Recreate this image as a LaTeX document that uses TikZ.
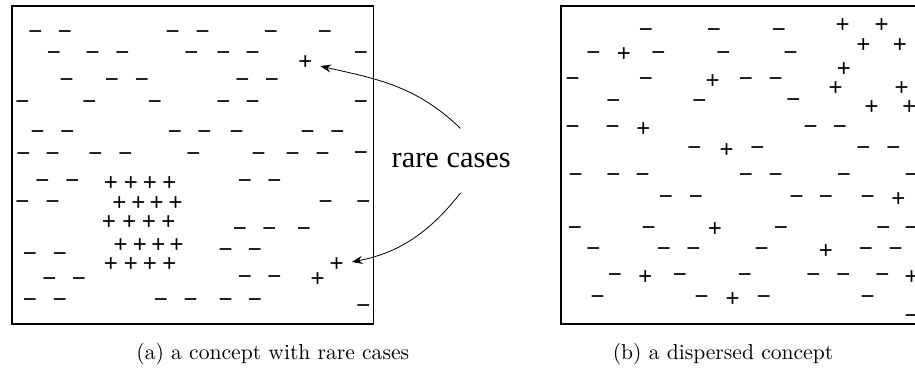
\documentclass[tikz,border=0pt]{standalone}
\usepackage{fontspec}
\newfontfamily\symfont{Liberation Sans}
\newfontfamily\rcfont{Liberation Serif}
\newfontfamily\capfont{lmroman10-regular}[Extension=.otf]
\usetikzlibrary{arrows.meta}
\begin{document}
\begin{tikzpicture}[x=0.75pt,y=0.75pt,
  mn/.style={font=\symfont\fontsize{18}{18}\selectfont, inner sep=0pt, anchor=base, yshift=-5.2pt},
  pl/.style={font=\symfont\fontsize{18}{18}\selectfont, inner sep=0pt, anchor=base, yshift=-6.4pt},
  frame/.style={draw, line width=0.9pt},
  rarrow/.style={-{Stealth[length=8pt,width=6pt]}, line width=0.6pt, shorten >=6pt},
  captext/.style={font=\capfont\fontsize{16.2}{19}\selectfont, inner sep=0pt, anchor=base},
  rctext/.style={font=\rcfont\fontsize{22.8}{26}\selectfont, inner xsep=0pt, inner ysep=18.5pt, anchor=base}
]
\useasboundingbox (0,0) rectangle (915,-378);
\clip (0,0) rectangle (915,-378);
% frames
\draw[frame] (12,-6) rectangle (373.3,-324);
\draw[frame] (561,-6) rectangle (925,-324);
% left minus
\foreach \x/\y [count=\i] in {35.3/33,64.8/33,172.6/33,202.7/33,271/33,325/33,
  54/54,92.7/54,122.3/54,191.5/54,223.3/54,252.7/54,361/54,
  66.7/81,112/81,142/81,242.3/81,272/81,
  22.3/103,89.3/103,155/103,223.3/103,252.7/103,361/103,
  37.7/133,67.3/133,175/133,204.3/133,236.7/133,307.7/133,337.3/133,
  23.3/155,52.7/155,95.3/155,125.3/155,193.3/155,258.7/155,292.7/155,322.7/155,361/154,
  42.3/182,72.3/182,245/182,274.3/182,
  22.3/203,52.7/203,325.7/203,363.3/203,
  240/229.3,269.3/229.3,304/229.3,
  225.7/251,255/251,30/254.3,60/254.3,
  245/277.7,274.3/277.7,49.3/279.3,79/279.3,
  30/301,60/301,161/301,190.7/301,225.7/301,255/301,363.3/306.7}
  \node[mn] (lm\i) at (\x,-\y) {−};
% left plus
\foreach \x/\y [count=\i] in {111/181.7,131/181.7,150/181.7,169.3/181.7,
  119.3/201.7,138.3/201.7,156.7/201.7,175.7/201.7,
  109/220.7,129.3/220.7,149/220.7,168.3/220.7,
  120.7/244.3,140/244.3,158.3/244.3,176.7/244.3,
  111/263.3,131/263.3,150/263.3,169.3/263.3,317.7/277.7}
  \node[pl] (lp\i) at (\x,-\y) {+};
\node[pl] (pA) at (305.3,-61) {+};
\node[pl] (pB) at (336.7,-263.3) {+};
% right minus
\foreach \x/\y [count=\i] in {646/31,714/31,779/31,
  593.3/53.5,658.3/53.5,723.3/53.5,790.7/54,
  572.7/80,646/80,746/79.3,775.7/79.3,
  613.3/101.5,699.3/101.5,793.3/101,
  572.7/127.5,612.7/127.5,810.7/127.5,840/127.5,
  694.3/149,757.3/149,863.3/149,893.3/149,
  575.7/175.7,613.3/175.7,642.7/175.7,746/175.7,775.7/175.7,844/175.7,911.7/175.7,
  666/198,696/198,796.7/198,826/198,867.7/198,
  575/228.3,648.7/228.3,781/228.3,883.3/228.3,911.7/228.3,
  593.3/250,664/250,693.3/250,761.7/250,866/250,895.7/250,
  615/276,680/276,745/276,813.3/276,843.3/276,882.3/276,
  597.7/298,701.7/298,764/298,867.7/298,911.7/316.7}
  \node[mn] (rm\i) at (\x,-\y) {−};
% right plus
\foreach \x/\y [count=\i] in {842.7/24,881.7/24,863.3/44.3,900/44.3,624/53.3,
  844/68.3,712.7/80,835.7/87.3,901.7/87.3,871.7/106,909.3/106,
  643.3/127.7,726.7/149,898.3/198,715/228,826/250,645.3/276,911.7/276,732.7/298}
  \node[pl] (rp\i) at (\x,-\y) {+};
% rare cases
\node[rctext] (rc) at (451.2,-167.7) {rare cases};
\draw[rarrow] ([xshift=7pt]rc.north) to[out=136,in=-13] (pA);
\draw[rarrow] ([xshift=7pt]rc.south) to[out=232,in=11] (pB);
% captions
\node[captext] (ca) at (272.8,-359) {(a) a concept with rare cases};
\node[captext] (cb) at (723,-359) {(b) a dispersed concept};
\end{tikzpicture}
\end{document}
